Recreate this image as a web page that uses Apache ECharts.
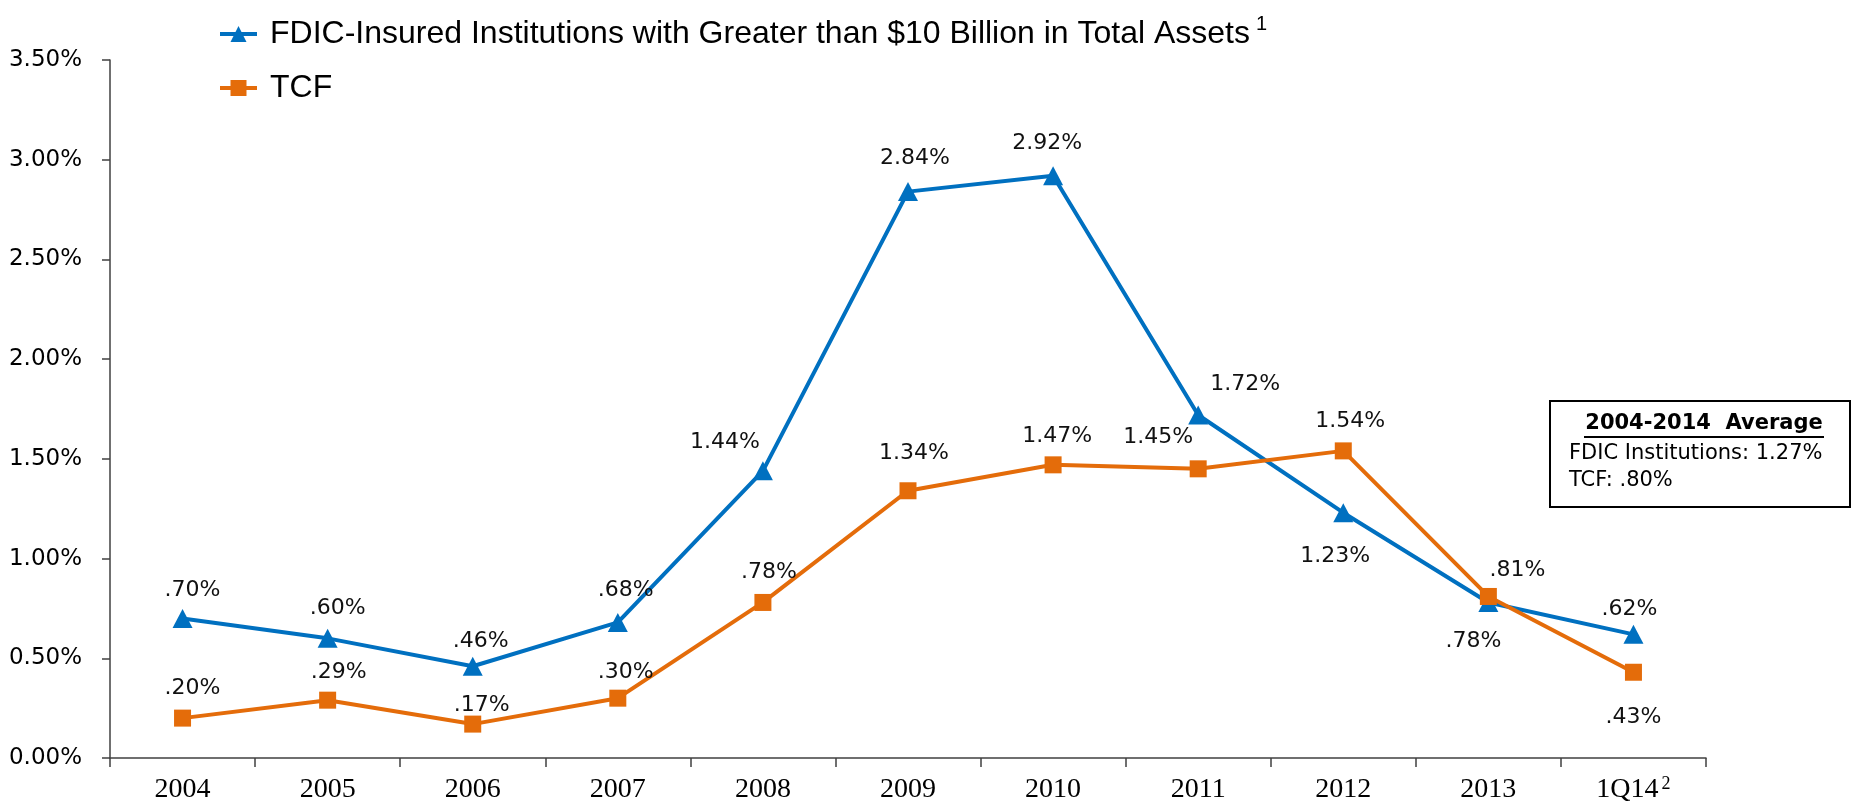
<!DOCTYPE html>
<html>
<head>
<meta charset="utf-8">
<title>FDIC vs TCF</title>
<script src="https://cdn.jsdelivr.net/npm/echarts@6/dist/echarts.min.js"></script>
<style>
    html, body { margin: 0; padding: 0; background: #fff; }
    #main { width: 1851px; height: 809px; }
</style>
</head>
<body>
<div id="main"></div>
<script>
    var years = ['2004', '2005', '2006', '2007', '2008', '2009', '2010', '2011', '2012', '2013', '1Q14'];
    var fdicValues = [0.70, 0.60, 0.46, 0.68, 1.44, 2.84, 2.92, 1.72, 1.23, 0.78, 0.62];
    var tcfValues = [0.20, 0.29, 0.17, 0.30, 0.78, 1.34, 1.47, 1.45, 1.54, 0.81, 0.43];
    var fdicName = 'FDIC-Insured Institutions with Greater than $10 Billion in Total Assets';
    var tcfName = 'TCF';

    // label shifts from the point centre (px)
    var fdicShift = [[10, -28], [10, -30], [8, -25], [8, -32], [-38, -29], [7, -33], [-6, -32], [47, -31], [-8, 44], [-15, 39], [-4, -25]];
    var tcfShift = [[10, -30], [11, -28], [9, -19], [8, -26], [6, -30], [6, -37], [4, -29], [-40, -32], [7, -30], [29, -26], [0, 45]];

    function pct(v) {
        return v.toFixed(2).replace(/^0/, '') + '%';
    }

    function buildData(values, shifts) {
        return values.map(function (v, i) {
            return {
                value: v,
                label: { position: 'inside', offset: shifts[i] }
            };
        });
    }

    var labelStyle = {
        show: true,
        fontFamily: 'DejaVu Sans',
        fontSize: 22,
        color: '#111',
        formatter: function (p) { return pct(p.value); }
    };

    var myChart = echarts.init(document.getElementById('main'));

    var option = {
        animation: false,
        backgroundColor: '#fff',
        grid: { left: 110, right: 145, top: 60, bottom: 51, containLabel: false },
        legend: {
            orient: 'vertical',
            left: 218,
            top: 14,
            padding: 0,
            itemGap: 14,
            itemWidth: 37,
            itemHeight: 20,
            data: [fdicName, tcfName],
            lineStyle: { width: 4 },
            formatter: function (name) {
                return name === fdicName ? '{t|' + name + '}{s|1}' : '{t|' + name + '}';
            },
            textStyle: {
                color: '#000',
                fontFamily: 'Liberation Sans',
                fontSize: 32,
                lineHeight: 40,
                rich: {
                    t: { fontFamily: 'Liberation Sans', fontSize: 32, lineHeight: 40, padding: [0, 0, 0, 8], color: '#000' },
                    s: { fontFamily: 'Liberation Sans', fontSize: 20, lineHeight: 40, verticalAlign: 'top', padding: [0, 0, 0, 6], color: '#000' }
                }
            }
        },
        xAxis: {
            type: 'category',
            data: years,
            boundaryGap: true,
            axisLine: { lineStyle: { color: '#404040', width: 1.5 } },
            axisTick: { show: true, interval: 0, length: 9, lineStyle: { color: '#404040', width: 1.5 } },
            axisLabel: {
                interval: 0,
                margin: 17,
                color: '#000',
                fontFamily: 'Liberation Serif',
                fontSize: 28,
                formatter: function (v) {
                    return v === '1Q14' ? '{a|1Q14}{s|2}' : '{a|' + v + '}';
                },
                rich: {
                    a: { fontFamily: 'Liberation Serif', fontSize: 28, lineHeight: 30, color: '#000' },
                    s: { fontFamily: 'Liberation Serif', fontSize: 18, lineHeight: 30, verticalAlign: 'top', padding: [0, 0, 0, 3], color: '#000' }
                }
            }
        },
        yAxis: {
            type: 'value',
            min: 0,
            max: 3.5,
            interval: 0.5,
            splitLine: { show: false },
            axisLine: { show: true, lineStyle: { color: '#404040', width: 1.5 } },
            axisTick: { show: true, length: 8, lineStyle: { color: '#404040', width: 1.5 } },
            axisLabel: {
                margin: 28,
                color: '#000',
                fontFamily: 'DejaVu Sans',
                fontSize: 23,
                formatter: function (v) { return v.toFixed(2) + '%'; }
            }
        },
        series: [
            {
                name: fdicName,
                type: 'line',
                data: buildData(fdicValues, fdicShift),
                symbol: 'triangle',
                symbolSize: [20, 19],
                lineStyle: { color: '#0070C0', width: 4 },
                itemStyle: { color: '#0070C0' },
                label: labelStyle
            },
            {
                name: tcfName,
                type: 'line',
                data: buildData(tcfValues, tcfShift),
                symbol: 'rect',
                symbolSize: 17,
                lineStyle: { color: '#E46C0A', width: 4 },
                itemStyle: { color: '#E46C0A' },
                label: labelStyle
            }
        ],
        graphic: [
            {
                type: 'group',
                left: 1549,
                top: 400,
                children: [
                    {
                        type: 'rect',
                        shape: { x: 0, y: 0, width: 300, height: 106 },
                        style: { fill: '#fff', stroke: '#000', lineWidth: 2 }
                    },
                    {
                        type: 'text',
                        x: 154, y: 23,
                        style: {
                            text: '2004-2014  Average',
                            font: 'bold 21px "DejaVu Sans"',
                            fill: '#000',
                            align: 'center',
                            verticalAlign: 'middle'
                        }
                    },
                    {
                        type: 'line',
                        shape: { x1: 34, y1: 36, x2: 274, y2: 36 },
                        style: { stroke: '#000', lineWidth: 2 }
                    },
                    {
                        type: 'text',
                        x: 19, y: 53,
                        style: {
                            text: 'FDIC Institutions: 1.27%',
                            font: '21px "DejaVu Sans"',
                            fill: '#000',
                            verticalAlign: 'middle'
                        }
                    },
                    {
                        type: 'text',
                        x: 19, y: 80,
                        style: {
                            text: 'TCF: .80%',
                            font: '21px "DejaVu Sans"',
                            fill: '#000',
                            verticalAlign: 'middle'
                        }
                    }
                ]
            }
        ]
    };

    myChart.setOption(option);
</script>
</body>
</html>
